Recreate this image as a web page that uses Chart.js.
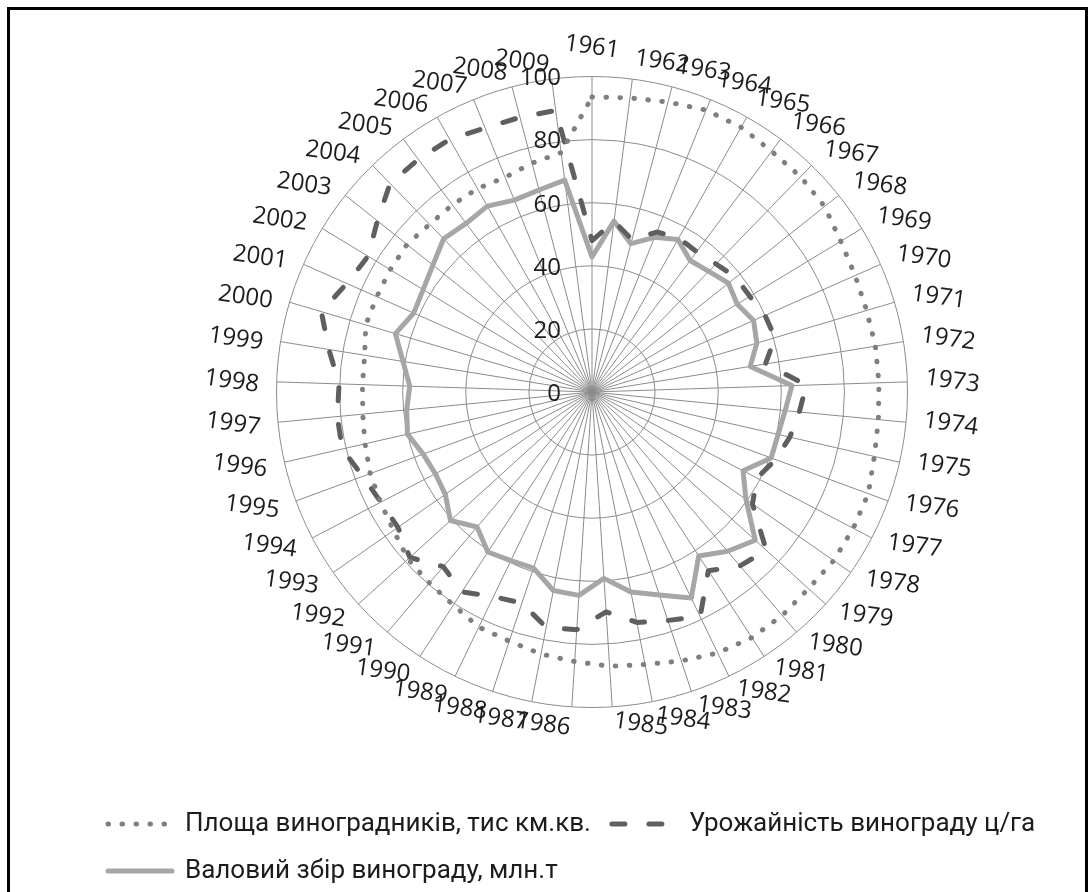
<!DOCTYPE html>
<html>
<head>
<meta charset="utf-8">
<script src="https://cdn.jsdelivr.net/npm/chart.js@4.4.1/dist/chart.umd.min.js"></script>
<style>
  html, body { margin: 0; padding: 0; background: #ffffff; }
  #wrap { position: relative; width: 1092px; height: 892px; overflow: hidden; }
  #c { position: absolute; left: 0; top: 0; }
  #frame { position: absolute; left: 7px; top: 7px; width: 1081px; height: 920px;
           border: 3px solid #000; box-sizing: border-box; pointer-events: none; }
</style>
</head>
<body>
<div id="wrap">
  <canvas id="c" width="1092" height="892"></canvas>
  <div id="frame"></div>
</div>
<script>
// ---- categories (years) ----
const years = ['1961','1962','1963','1964','1965','1966','1967','1968','1969','1970',
  '1971','1972','1973','1974','1975','1976','1977','1978','1979','1980',
  '1981','1982','1983','1984','1985','1986','1987','1988','1989','1990',
  '1991','1992','1993','1994','1995','1996','1997','1998','1999','2000',
  '2001','2002','2003','2004','2005','2006','2007','2008','2009'];

// ---- series values ----
const areaValues = [93.5, 94, 95, 96.4, 96.3, 95.2, 95, 94.3, 92.2, 91.2,
  90.8, 91, 91, 91.2, 91.8, 93.3, 93.4, 93.4, 92.7, 93,
  92.9, 91.8, 89.8, 88, 87.1, 85.6, 84.6, 83.2, 82.7, 80.6,
  79.5, 78.8, 76.7, 75.6, 74.9, 73.8, 73, 72.8, 73, 74.8,
  74.6, 74.8, 75, 74, 74, 74, 73.4, 75, 76.5];

const yieldValues = [48, 54.5, 50, 54.7, 56, 55.5, 56.5, 58.3, 58.5, 60,
  60.5, 55.7, 68, 66, 64.3, 62, 59, 62, 74.6, 72.4,
  67.6, 79, 76.3, 74.4, 69.8, 75.5, 76, 70.5, 72, 75.6,
  72.7, 78, 75, 75.5, 77.4, 81.2, 81.1, 80.2, 84.5, 89.5,
  85, 83, 87, 92, 92, 91.9, 90.3, 90, 90];

const productionValues = [42.8, 54.6, 48.6, 52.9, 55.5, 52, 53.2, 55.3, 53.8, 56,
  54.5, 50.8, 63.4, 61.5, 60.5, 60.5, 54, 59.5, 69.9, 66.3,
  62, 72.5, 67.8, 64.6, 59.2, 64.6, 64.1, 58.8, 59.3, 60.5,
  56.2, 60.6, 56.7, 56, 57, 60, 59, 57.8, 60.7, 65,
  61.8, 62.6, 64.5, 67.6, 66.7, 67.6, 65.6, 66.2, 67.7];

// ---- tick labels ----
const tickLabels = ['0', '20', '40', '60', '80', '100'];

// ---- series names ----
const seriesNames = ['Площа виноградників, тис км.кв.', 'Урожайність винограду ц/га', 'Валовий збір винограду, млн.т'];

const TEXT_COLOR = '#1c1c1c';
const AXIS_FONT = "24px 'Open Sans', 'Noto Sans', sans-serif";
const LABEL_ROT = 8 * Math.PI / 180;
const LABEL_GAP = 17.5;

const radarGeometry = (scale) => {
  scale.xCenter = 592;
  scale.yCenter = 392;
  scale.drawingArea = 315.5;
};

const axisTextPlugin = {
  id: 'axisText',
  beforeDatasetsDraw(chart) {
    const s = chart.scales.r;
    const ctx = chart.ctx;
    ctx.save();
    ctx.font = AXIS_FONT;
    ctx.fillStyle = TEXT_COLOR;
    ctx.textAlign = 'right';
    ctx.textBaseline = 'middle';
    tickLabels.forEach((t) => {
      const v = Number(t);
      const y = s.yCenter - s.getDistanceFromCenterForValue(v);
      ctx.fillText(t, s.xCenter - 31, y + 2);
    });
    ctx.restore();
  },
  afterDraw(chart) {
    const s = chart.scales.r;
    const ctx = chart.ctx;
    const labels = chart.data.labels;
    const n = labels.length;
    ctx.save();
    ctx.font = AXIS_FONT;
    ctx.fillStyle = TEXT_COLOR;
    ctx.textAlign = 'center';
    ctx.textBaseline = 'middle';
    labels.forEach((lab, i) => {
      const p = s.getPointPosition(i, s.drawingArea + LABEL_GAP);
      const deg = i * 360 / n;
      const w = ctx.measureText(lab).width;
      let cx, cy = p.y;
      if (i === 0) { cx = p.x; cy = p.y - 12; }
      else if (deg < 180) { cx = p.x + w / 2; }
      else { cx = p.x - w / 2; }
      ctx.save();
      ctx.translate(cx, cy);
      ctx.rotate(LABEL_ROT);
      ctx.fillText(lab, 0, 0);
      ctx.restore();
    });
    ctx.restore();
  }
};

const datasets = [
  {
    label: seriesNames[0],
    data: areaValues,
    borderColor: '#7f7f7f',
    borderWidth: 5,
    borderDash: [0.5, 13.5],
    borderCapStyle: 'round',
    fill: false
  },
  {
    label: seriesNames[1],
    data: yieldValues,
    borderColor: '#5f5f5f',
    borderWidth: 5,
    borderDash: [13, 24],
    borderCapStyle: 'round',
    fill: false
  },
  {
    label: seriesNames[2],
    data: productionValues,
    borderColor: '#a6a6a6',
    borderWidth: 5,
    borderCapStyle: 'round',
    fill: false
  }
];

new Chart(document.getElementById('c'), {
  type: 'radar',
  data: { labels: years, datasets: datasets },
  options: {
    responsive: false,
    animation: false,
    devicePixelRatio: 1,
    layout: { padding: { left: 87, right: 0, top: 0, bottom: -2 } },
    elements: {
      line: { tension: 0, borderJoinStyle: 'round' },
      point: { radius: 0, hitRadius: 0, hoverRadius: 0 }
    },
    datasets: { radar: { clip: false } },
    scales: {
      r: {
        min: 0,
        max: 100,
        ticks: { display: false, stepSize: 20 },
        grid: { circular: true, color: '#8c8c8c', lineWidth: 1 },
        angleLines: { display: true, color: '#8c8c8c', lineWidth: 1 },
        pointLabels: { display: false },
        afterFit: radarGeometry
      }
    },
    plugins: {
      tooltip: { enabled: false },
      legend: {
        position: 'bottom',
        align: 'start',
        labels: {
          usePointStyle: true,
          pointStyle: 'line',
          pointStyleWidth: 64,
          boxHeight: 10,
          padding: 21,
          color: TEXT_COLOR,
          font: { family: "Roboto, 'Open Sans', sans-serif", size: 26 },
          generateLabels: (chart) => chart.data.datasets.map((ds, i) => ({
            text: ds.label,
            fillStyle: 'rgba(0,0,0,0)',
            strokeStyle: ds.borderColor,
            lineWidth: ds.borderWidth,
            lineDash: ds.borderDash || [],
            lineCap: ds.borderCapStyle || 'butt',
            pointStyle: 'line',
            fontColor: TEXT_COLOR,
            hidden: false,
            datasetIndex: i
          }))
        }
      }
    }
  },
  plugins: [axisTextPlugin]
});
</script>
</body>
</html>
